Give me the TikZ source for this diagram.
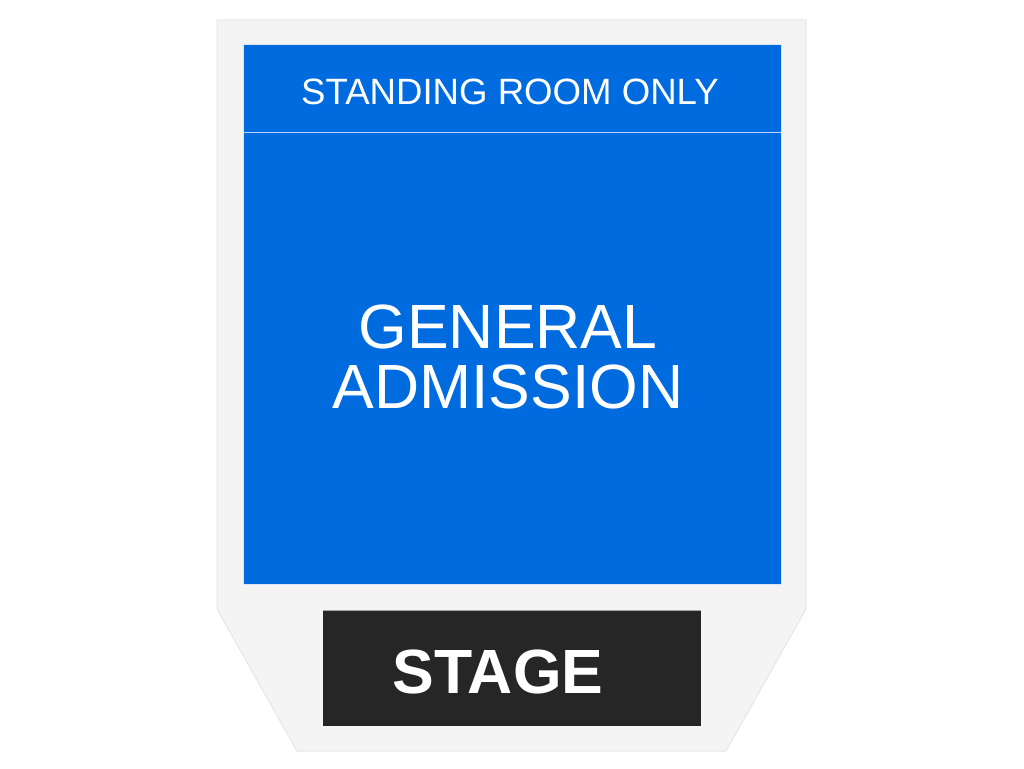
\documentclass[tikz,border=0pt]{standalone}
\usepackage{fontspec}
\setmainfont{Liberation Sans}
\definecolor{venuebg}{HTML}{F4F4F4}
\definecolor{venueedge}{HTML}{E6E6E6}
\definecolor{gablue}{HTML}{006BDF}
\definecolor{gaedge}{HTML}{DCE6F2}
\definecolor{sepline}{HTML}{B5D4F7}
\definecolor{stagedark}{HTML}{262626}
\tikzset{
  venue/.style={fill=venuebg, draw=venueedge, line width=1pt},
  zone/.style={fill=gablue, draw=gaedge, line width=1pt},
  stagebox/.style={fill=stagedark, draw=none},
  whitetext/.style={text=white, inner sep=0pt}
}
\begin{document}
\begin{tikzpicture}[x=1pt,y=-1pt]
\useasboundingbox (0,0) rectangle (1024,768);
% outer venue outline
\draw[venue] (217,20) -- (806,20) -- (806,609) -- (726,751) -- (297,751) -- (217,609) -- cycle;
% general admission area
\draw[zone] (243,45) rectangle (781,584);
\coordinate (sepL) at (243.5,132.5);
\coordinate (sepR) at (780.5,132.5);
\draw[sepline, line width=1pt] (sepL) -- (sepR);
% stage
\fill[stagebox] (323,610) rectangle (701,726);
\draw[gray!70, line width=0.8pt] (323,610.4) -- (701,610.4);
% labels
\node[whitetext, anchor=base, font=\fontsize{36.6}{43}\selectfont] (sro) at (510,104) {STANDING ROOM ONLY};
\node[whitetext, align=center, anchor=center, font=\fontsize{62.5}{60}\selectfont] (ga) at (508,357) {GENERAL\\ADMISSION};
\node[whitetext, anchor=base, font=\fontsize{62.5}{70}\selectfont\bfseries] (stage) at (498,693) {STAGE};
\end{tikzpicture}
\end{document}
